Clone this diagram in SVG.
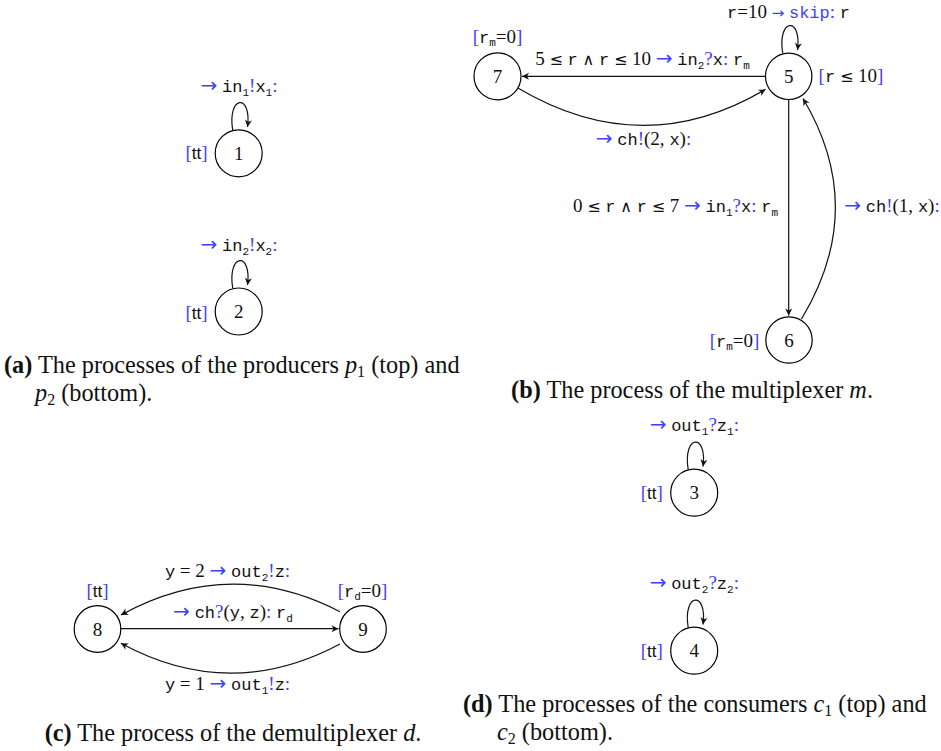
<svg xmlns="http://www.w3.org/2000/svg" width="941" height="751" viewBox="0 0 941 751">
<style>
.bg{fill:#fff}
.node circle{fill:#fff;stroke:#000;stroke-width:1.2}
.num{font-family:"Liberation Serif","DejaVu Serif",serif;font-size:19px;text-anchor:middle;fill:#111}
.m{font-family:"Liberation Serif","DejaVu Serif",serif;font-size:19px;fill:#111}
.t{font-family:"Liberation Mono","DejaVu Sans Mono",monospace;font-size:17px}
.tt{font-family:"Liberation Sans","DejaVu Sans",sans-serif;font-size:17px}
.s{font-size:11px}
.b{fill:#3f3fff}
.ar{font-family:"DejaVu Sans",sans-serif;font-size:20px}
.op{font-family:"DejaVu Sans",sans-serif;font-size:16px}
.cap{font-family:"Liberation Serif","DejaVu Serif",serif;font-size:24.3px;fill:#111}
.edges path,.edges line{fill:none;stroke:#111;stroke-width:1.2;marker-end:url(#arr)}
</style>
<defs>
<marker id="arr" markerUnits="userSpaceOnUse" viewBox="-8 -5 10 10" refX="0" refY="0" markerWidth="10" markerHeight="10" orient="auto">
<path d="M0,0 L-7,-3.5 L-5,0 L-7,3.5 Z" fill="#111"/>
</marker>
</defs>
<rect class="bg" width="941" height="751"/>

<g class="edges" id="connectors">
<path d="M232.7,130.2 C227,95 252,93 247.5,127"/>
<path d="M232.7,288.2 C227,253 252,251 247.5,285"/>
<path d="M782.7,53 C777,18 802,16 797.5,50"/>
<line x1="765.5" y1="76.3" x2="522" y2="76.3"/>
<path d="M518.3,88.3 Q643,162 765.5,89.3"/>
<line x1="788.7" y1="99.8" x2="788.7" y2="315.5"/>
<path d="M801.5,319 Q868.5,208 803,98.5"/>
<path d="M340,611.7 Q230,555 121,615"/>
<line x1="120.8" y1="628.7" x2="338.5" y2="628.7"/>
<path d="M340,644 Q230,702.7 121,643.3"/>
<path d="M688.2,469.5 C682.5,434.5 707.5,432.5 703,466.5"/>
<path d="M688.2,627.5 C682.5,592.5 707.5,590.5 703,624.5"/>
</g>

<g id="node1" class="node">
<circle cx="238.7" cy="153.3" r="23.5"/>
<text class="num" x="238.7" y="160">1</text>
<text class="m" x="196.5" y="159" text-anchor="middle"><tspan class="b">[</tspan><tspan class="tt">tt</tspan><tspan class="b">]</tspan></text>
<text class="m" x="239" y="92" text-anchor="middle"><tspan class="b ar">→</tspan> <tspan class="t">in</tspan><tspan class="t s" dy="4">1</tspan><tspan class="b" dy="-4">!</tspan><tspan class="t">x</tspan><tspan class="t s" dy="4">1</tspan><tspan class="b" dy="-4">:</tspan></text>
</g>
<g id="node2" class="node">
<circle cx="238.7" cy="311.5" r="23.5"/>
<text class="num" x="238.7" y="318">2</text>
<text class="m" x="196.5" y="318.5" text-anchor="middle"><tspan class="b">[</tspan><tspan class="tt">tt</tspan><tspan class="b">]</tspan></text>
<text class="m" x="239" y="251" text-anchor="middle"><tspan class="b ar">→</tspan> <tspan class="t">in</tspan><tspan class="t s" dy="4">2</tspan><tspan class="b" dy="-4">!</tspan><tspan class="t">x</tspan><tspan class="t s" dy="4">2</tspan><tspan class="b" dy="-4">:</tspan></text>
</g>

<g id="node7" class="node">
<circle cx="497.5" cy="76.3" r="23.5"/>
<text class="num" x="497.5" y="83">7</text>
<text class="m" x="497.5" y="43" text-anchor="middle"><tspan class="b">[</tspan><tspan class="t">r</tspan><tspan class="t s" dy="3">m</tspan><tspan dy="-3">=0</tspan><tspan class="b">]</tspan></text>
</g>
<g id="node5" class="node">
<circle cx="788.7" cy="76.3" r="23.2"/>
<text class="num" x="788.7" y="83">5</text>
<text class="m" x="851" y="82" text-anchor="middle"><tspan class="b">[</tspan><tspan class="t">r</tspan> <tspan class="op">≤</tspan> 10<tspan class="b">]</tspan></text>
</g>
<g id="node6" class="node">
<circle cx="789" cy="340" r="23.2"/>
<text class="num" x="789" y="346.7">6</text>
<text class="m" x="734.5" y="347" text-anchor="middle"><tspan class="b">[</tspan><tspan class="t">r</tspan><tspan class="t s" dy="3">m</tspan><tspan dy="-3">=0</tspan><tspan class="b">]</tspan></text>
</g>
<g id="labels-b">
<text class="m" x="788.5" y="18" text-anchor="middle"><tspan class="t">r</tspan>=10  <tspan class="b ar" style="font-size:15px">→</tspan> <tspan class="t b">skip</tspan><tspan class="b">:</tspan> <tspan class="t">r</tspan></text>
<text class="m" x="642.5" y="65" text-anchor="middle">5 <tspan class="op">≤</tspan> <tspan class="t">r</tspan> <tspan class="op">∧</tspan> <tspan class="t">r</tspan> <tspan class="op">≤</tspan> 10 <tspan class="b ar">→</tspan>  <tspan class="t">in</tspan><tspan class="t s" dy="4">2</tspan><tspan class="b" dy="-4">?</tspan><tspan class="t">x</tspan><tspan class="b">:</tspan> <tspan class="t">r</tspan><tspan class="t s" dy="4">m</tspan></text>
<text class="m" x="643.5" y="145" text-anchor="middle"><tspan class="b ar">→</tspan> <tspan class="t">ch</tspan><tspan class="b">!</tspan>(2, <tspan class="t">x</tspan>)<tspan class="b">:</tspan></text>
<text class="m" x="675.5" y="212" text-anchor="middle">0 <tspan class="op">≤</tspan> <tspan class="t">r</tspan> <tspan class="op">∧</tspan> <tspan class="t">r</tspan> <tspan class="op">≤</tspan> 7 <tspan class="b ar">→</tspan> <tspan class="t">in</tspan><tspan class="t s" dy="4">1</tspan><tspan class="b" dy="-4">?</tspan><tspan class="t">x</tspan><tspan class="b">:</tspan> <tspan class="t">r</tspan><tspan class="t s" dy="4">m</tspan></text>
<text class="m" x="892" y="212" text-anchor="middle"><tspan class="b ar">→</tspan> <tspan class="t">ch</tspan><tspan class="b">!</tspan>(1, <tspan class="t">x</tspan>)<tspan class="b">:</tspan></text>
</g>

<g id="node8" class="node">
<circle cx="97.5" cy="629" r="23.3"/>
<text class="num" x="97.5" y="635.7">8</text>
<text class="m" x="97.5" y="597" text-anchor="middle"><tspan class="b">[</tspan><tspan class="tt">tt</tspan><tspan class="b">]</tspan></text>
</g>
<g id="node9" class="node">
<circle cx="363" cy="629" r="23.3"/>
<text class="num" x="363" y="635.7">9</text>
<text class="m" x="362.5" y="597" text-anchor="middle"><tspan class="b">[</tspan><tspan class="t">r</tspan><tspan class="t s" dy="3">d</tspan><tspan dy="-3">=0</tspan><tspan class="b">]</tspan></text>
</g>
<g id="labels-c">
<text class="m" x="227.5" y="577" text-anchor="middle"><tspan class="t">y</tspan> = 2 <tspan class="b ar">→</tspan> <tspan class="t">out</tspan><tspan class="t s" dy="4">2</tspan><tspan class="b" dy="-4">!</tspan><tspan class="t">z</tspan><tspan class="b">:</tspan></text>
<text class="m" x="233" y="618" text-anchor="middle"><tspan class="b ar">→</tspan> <tspan class="t">ch</tspan><tspan class="b">?</tspan>(<tspan class="t">y</tspan>, <tspan class="t">z</tspan>)<tspan class="b">:</tspan> <tspan class="t">r</tspan><tspan class="t s" dy="4">d</tspan></text>
<text class="m" x="227.5" y="690" text-anchor="middle"><tspan class="t">y</tspan> = 1 <tspan class="b ar">→</tspan> <tspan class="t">out</tspan><tspan class="t s" dy="4">1</tspan><tspan class="b" dy="-4">!</tspan><tspan class="t">z</tspan><tspan class="b">:</tspan></text>
</g>

<g id="node3" class="node">
<circle cx="694.2" cy="492.7" r="23.5"/>
<text class="num" x="694.2" y="499.4">3</text>
<text class="m" x="651.7" y="498.5" text-anchor="middle"><tspan class="b">[</tspan><tspan class="tt">tt</tspan><tspan class="b">]</tspan></text>
<text class="m" x="694.3" y="431" text-anchor="middle"><tspan class="b ar">→</tspan> <tspan class="t">out</tspan><tspan class="t s" dy="4">1</tspan><tspan class="b" dy="-4">?</tspan><tspan class="t">z</tspan><tspan class="t s" dy="4">1</tspan><tspan class="b" dy="-4">:</tspan></text>
</g>
<g id="node4" class="node">
<circle cx="694.2" cy="650.7" r="23.5"/>
<text class="num" x="694.2" y="657.4">4</text>
<text class="m" x="651.7" y="657" text-anchor="middle"><tspan class="b">[</tspan><tspan class="tt">tt</tspan><tspan class="b">]</tspan></text>
<text class="m" x="694.3" y="589" text-anchor="middle"><tspan class="b ar">→</tspan> <tspan class="t">out</tspan><tspan class="t s" dy="4">2</tspan><tspan class="b" dy="-4">?</tspan><tspan class="t">z</tspan><tspan class="t s" dy="4">2</tspan><tspan class="b" dy="-4">:</tspan></text>
</g>

<g id="captions">
<text class="cap" x="4" y="373"><tspan font-weight="bold">(a)</tspan> The processes of the producers <tspan font-style="italic">p</tspan><tspan font-size="16" dy="4">1</tspan><tspan dy="-4"> (top) and</tspan></text>
<text class="cap" x="35" y="401"><tspan font-style="italic">p</tspan><tspan font-size="16" dy="4">2</tspan><tspan dy="-4"> (bottom).</tspan></text>
<text class="cap" x="692" y="398" text-anchor="middle"><tspan font-weight="bold">(b)</tspan> The process of the multiplexer <tspan font-style="italic">m</tspan>.</text>
<text class="cap" x="233" y="741" text-anchor="middle"><tspan font-weight="bold">(c)</tspan> The process of the demultiplexer <tspan font-style="italic">d</tspan>.</text>
<text class="cap" x="463" y="711.5"><tspan font-weight="bold">(d)</tspan> The processes of the consumers <tspan font-style="italic">c</tspan><tspan font-size="16" dy="4">1</tspan><tspan dy="-4"> (top) and</tspan></text>
<text class="cap" x="497" y="740"><tspan font-style="italic">c</tspan><tspan font-size="16" dy="4">2</tspan><tspan dy="-4"> (bottom).</tspan></text>
</g>
</svg>
